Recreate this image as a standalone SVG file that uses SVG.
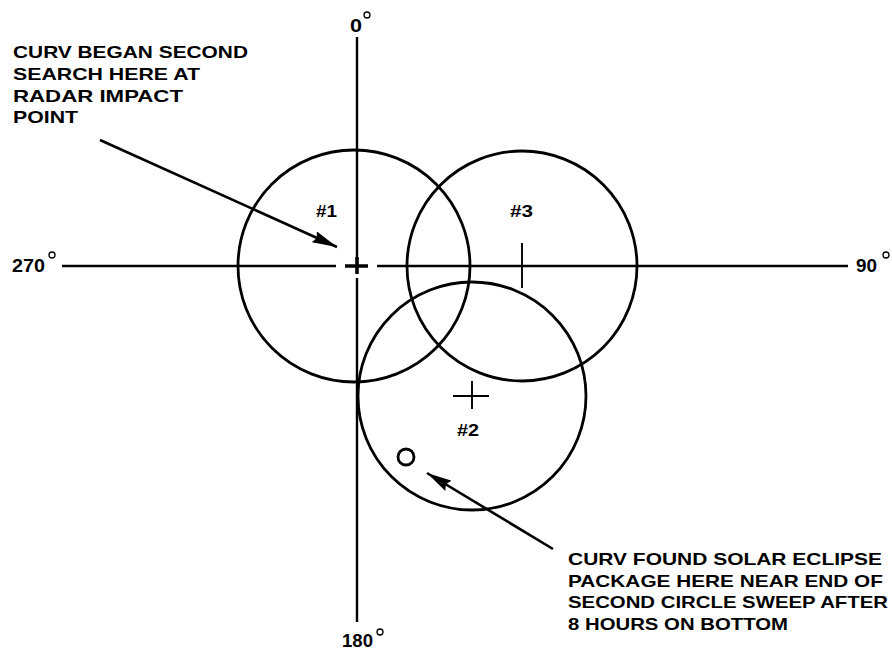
<svg xmlns="http://www.w3.org/2000/svg" width="892" height="654" viewBox="0 0 892 654">
<style>
.ln{stroke:#000;stroke-width:2.6;fill:none}
.ax{stroke:#000;stroke-width:2.4;fill:none}
.cr{stroke:#000;stroke-width:2.8;fill:none}
.tk{stroke:#000;stroke-width:1.9;fill:none}
.t{font-family:"Liberation Sans",Arial,sans-serif;font-weight:bold;font-size:16.5px;fill:#000}
.d{font-family:"Liberation Sans",Arial,sans-serif;font-weight:bold;font-size:18.5px;fill:#000}
.n{font-family:"Liberation Sans",Arial,sans-serif;font-weight:bold;font-size:16.5px;fill:#000}
.deg{stroke:#000;stroke-width:1.3;fill:none}
</style>
<defs>
<marker id="ah" markerUnits="userSpaceOnUse" markerWidth="26" markerHeight="12" refX="25" refY="6" orient="auto">
<path d="M0,0 L25,6 L0,12 L3,6 z" fill="#000"/>
</marker>
</defs>
<g id="axes">
<line class="ax" x1="62" y1="266" x2="336" y2="266"/>
<line class="ax" x1="377" y1="266" x2="848" y2="266"/>
<line class="ax" x1="357" y1="37" x2="357" y2="260"/>
<line class="ax" x1="357" y1="278" x2="357" y2="622"/>
<path d="M345,266 H368 M357,257 V274" stroke="#000" stroke-width="3.6" fill="none"/>
</g>
<g id="degree-labels">
<text class="d" x="350" y="32" textLength="12" lengthAdjust="spacingAndGlyphs">0</text>
<circle class="deg" cx="367" cy="15" r="3"/>
<text class="d" x="12" y="272" textLength="33" lengthAdjust="spacingAndGlyphs">270</text>
<circle class="deg" cx="52" cy="255" r="3"/>
<text class="d" x="856" y="272" textLength="21" lengthAdjust="spacingAndGlyphs">90</text>
<circle class="deg" cx="886" cy="255" r="3"/>
<text class="d" x="342" y="647" textLength="31" lengthAdjust="spacingAndGlyphs">180</text>
<circle class="deg" cx="380" cy="632" r="3"/>
</g>
<g id="circle1">
<circle class="cr" cx="354" cy="266" r="116"/>
<text class="n" x="316" y="217" textLength="21" lengthAdjust="spacingAndGlyphs">#1</text>
</g>
<g id="circle3">
<circle class="cr" cx="522" cy="266" r="115"/>
<line class="tk" x1="522" y1="243" x2="522" y2="288"/>
<text class="n" x="510" y="217" textLength="23" lengthAdjust="spacingAndGlyphs">#3</text>
</g>
<g id="circle2">
<circle class="cr" cx="472" cy="396" r="114"/>
<path class="tk" d="M453,396 H489 M472,381 V409"/>
<text class="n" x="457" y="436" textLength="22" lengthAdjust="spacingAndGlyphs">#2</text>
</g>
<g id="package">
<circle cx="406" cy="457" r="8" stroke="#000" stroke-width="2.8" fill="none"/>
</g>
<g id="note-start">
<text class="t" x="13" y="58" textLength="235" lengthAdjust="spacingAndGlyphs">CURV BEGAN SECOND</text>
<text class="t" x="13" y="80" textLength="187" lengthAdjust="spacingAndGlyphs">SEARCH HERE AT</text>
<text class="t" x="13" y="102" textLength="170" lengthAdjust="spacingAndGlyphs">RADAR IMPACT</text>
<text class="t" x="13" y="123" textLength="65" lengthAdjust="spacingAndGlyphs">POINT</text>
</g>
<g id="note-found">
<text class="t" x="568" y="565" textLength="314" lengthAdjust="spacingAndGlyphs">CURV FOUND SOLAR ECLIPSE</text>
<text class="t" x="568" y="587" textLength="315" lengthAdjust="spacingAndGlyphs">PACKAGE HERE NEAR END OF</text>
<text class="t" x="568" y="608" textLength="320" lengthAdjust="spacingAndGlyphs">SECOND CIRCLE SWEEP AFTER</text>
<text class="t" x="568" y="630" textLength="220" lengthAdjust="spacingAndGlyphs">8 HOURS ON BOTTOM</text>
</g>
<g id="connectors">
<line class="ln" x1="100" y1="140" x2="337" y2="247" marker-end="url(#ah)"/>
<line class="ln" x1="553" y1="549" x2="427" y2="473" marker-end="url(#ah)"/>
</g>
</svg>
